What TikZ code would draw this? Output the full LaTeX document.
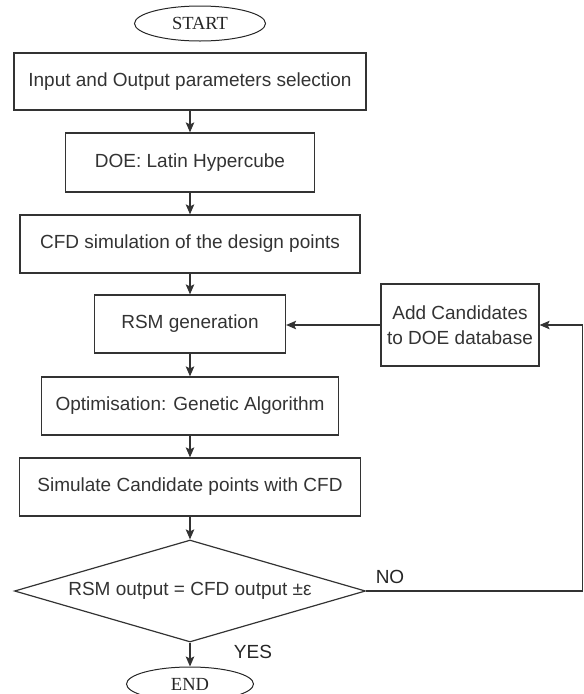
\documentclass[tikz,border=0pt]{standalone}
\usepackage{fontspec}
\setmainfont{Liberation Serif}
\setsansfont{Liberation Sans}
\usetikzlibrary{shapes.geometric,arrows.meta}
\begin{document}
\begin{tikzpicture}[x=1pt,y=-1pt,
  box/.style={draw=black!80, line width=1.2pt, rectangle, inner sep=0pt, text=black!80,
    font=\sffamily\fontsize{19}{25}\selectfont, align=center},
  term/.style={ellipse, draw=black!85, line width=1pt, inner sep=0pt, text=black!85,
    font=\rmfamily\fontsize{18.5}{22}\selectfont},
  decision/.style={diamond, draw=black!80, line width=1.2pt, inner sep=0pt, aspect=3.44, text=black!80,
    font=\sffamily\fontsize{19}{22}\selectfont},
  lbl/.style={text=black!85, font=\sffamily\fontsize{19}{22}\selectfont},
  arr/.style={-{Stealth[length=10pt,width=8.5pt,inset=2pt]}, line width=1.2pt, draw=black!80}]
\useasboundingbox (0,0) rectangle (584,694);
\node[term, minimum width=131pt, minimum height=35pt] (start) at (200,23.5) {START};
\node[box, minimum width=352pt, minimum height=57pt] (b1) at (190,81.5) {Input and Output parameters selection};
\node[box, minimum width=249pt, minimum height=59pt] (b2) at (190,162.5) {DOE: Latin Hypercube};
\node[box, minimum width=340pt, minimum height=58pt] (b3) at (190,244) {CFD simulation of the design points};
\node[box, minimum width=191pt, minimum height=58pt] (b4) at (190,324) {RSM generation};
\node[box, minimum width=297pt, minimum height=58pt] (b5) at (190,406) {Optimisation: Genetic Algorithm};
\node[box, minimum width=341pt, minimum height=58pt] (b6) at (190,487) {Simulate Candidate points with CFD};
\node[decision, minimum width=351pt, minimum height=102pt] (dec) at (190,591) {RSM output = CFD output ±ε};
\node[term, minimum width=127pt, minimum height=34pt] (end) at (190,684) {END};
\node[box, minimum width=158pt, minimum height=82pt] (add) at (460,325) {Add Candidates\\to DOE database};
\node[lbl] (no) at (390,577) {NO};
\node[lbl] (yes) at (253,652) {YES};
\coordinate (loop) at (582.5,591);
\draw[arr] (b1.south) -- (b2.north);
\draw[arr] (b2.south) -- (b3.north);
\draw[arr] (b3.south) -- (b4.north);
\draw[arr] (b4.south) -- (b5.north);
\draw[arr] (b5.south) -- (b6.north);
\draw[arr] (b6.south) -- (dec.north);
\draw[arr] (dec.south) -- (end.north);
\draw[arr] (dec.east) -- (loop) |- (add.east);
\draw[arr] (add.west) -- (add.west -| b4.east);
\end{tikzpicture}
\end{document}
